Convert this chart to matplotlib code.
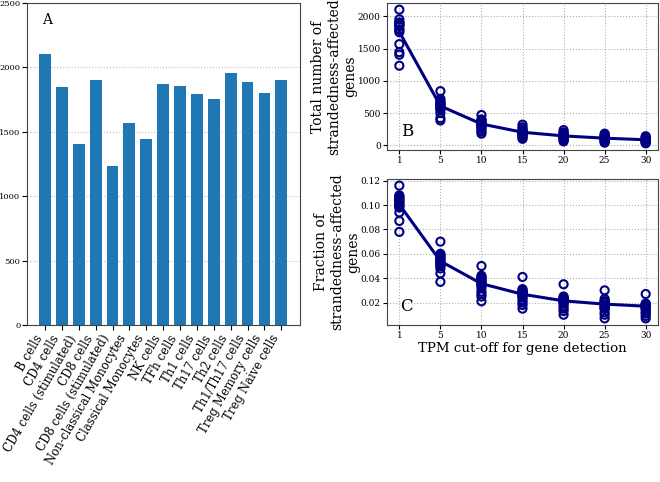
import numpy as np
import matplotlib
matplotlib.use("Agg")
import matplotlib.pyplot as plt

plt.rcParams['font.family'] = ['DejaVu Serif']

# panel A: strandedness-affected genes per cell type
cell_types = ['B cells', 'CD4 cells', 'CD4 cells (stimulated)', 'CD8 cells',
              'CD8 cells (stimulated)', 'Non-classical Monocytes',
              'Classical Monocytes', 'NK cells', 'TFh cells', 'Th1 cells',
              'Th17 cells', 'Th2 cells', 'Th1/Th17 cells', 'Treg Memory cells',
              'Treg Naive cells']
n_genes = [2105, 1850, 1405, 1905, 1235, 1570, 1445, 1875, 1855, 1790,
           1755, 1955, 1890, 1800, 1900]

# panels B and C: TPM cut-offs
tpm_labels = ['1', '5', '10', '15', '20', '25', '30']

total_1 = n_genes
total_5 = [840, 720, 690, 670, 650, 640, 630, 620, 600, 580, 560, 560, 500, 420, 385]
total_10 = [470, 400, 390, 370, 350, 340, 330, 320, 310, 300, 290, 270, 240, 210, 180]
total_15 = [320, 280, 250, 230, 220, 210, 200, 195, 190, 180, 170, 160, 140, 120, 100]
total_20 = [235, 200, 180, 170, 160, 150, 145, 140, 135, 130, 120, 110, 100, 80, 60]
total_25 = [180, 160, 145, 135, 125, 118, 112, 108, 100, 95, 88, 80, 70, 55, 40]
total_30 = [140, 125, 115, 105, 98, 92, 88, 84, 80, 75, 68, 60, 50, 40, 30]
total_line = [1760, 610, 330, 202, 145, 110, 85]

frac_1 = [0.116, 0.108, 0.107, 0.106, 0.105, 0.104, 0.103, 0.102, 0.101, 0.100, 0.099, 0.098, 0.094, 0.087, 0.078]
frac_5 = [0.070, 0.060, 0.059, 0.058, 0.057, 0.056, 0.055, 0.054, 0.053, 0.052, 0.051, 0.050, 0.048, 0.044, 0.037]
frac_10 = [0.050, 0.042, 0.041, 0.040, 0.039, 0.038, 0.037, 0.036, 0.035, 0.034, 0.032, 0.029, 0.027, 0.025, 0.021]
frac_15 = [0.041, 0.031, 0.030, 0.029, 0.029, 0.028, 0.027, 0.027, 0.026, 0.025, 0.024, 0.022, 0.020, 0.018, 0.015]
frac_20 = [0.035, 0.025, 0.024, 0.023, 0.023, 0.022, 0.022, 0.021, 0.020, 0.020, 0.019, 0.017, 0.015, 0.013, 0.010]
frac_25 = [0.030, 0.023, 0.021, 0.021, 0.020, 0.020, 0.018, 0.018, 0.017, 0.016, 0.015, 0.015, 0.012, 0.010, 0.007]
frac_30 = [0.027, 0.019, 0.019, 0.018, 0.018, 0.017, 0.017, 0.016, 0.016, 0.015, 0.014, 0.012, 0.011, 0.009, 0.007]
frac_line = [0.1005, 0.054, 0.0355, 0.0268, 0.0214, 0.0187, 0.017]

totals = [total_1, total_5, total_10, total_15, total_20, total_25, total_30]
fracs = [frac_1, frac_5, frac_10, frac_15, frac_20, frac_25, frac_30]

fig = plt.figure(figsize=(6.6, 4.82), dpi=100)

#PANEL A
axA = fig.add_axes([0.0404, 0.3257, 0.4136, 0.668])
xA = np.arange(len(cell_types))
axA.bar(xA, n_genes, width=0.7, color='#1f77b4')
axA.set_ylim(0, 2500)
axA.set_xticks(xA)
axA.set_xticklabels(cell_types, rotation=60, ha='right', fontsize=8.5)
axA.tick_params(axis='y', labelsize=6, pad=1)
axA.tick_params(axis='x', pad=2)
axA.yaxis.grid(True, linestyle=':', color='#c0c0c0', linewidth=0.8)
axA.set_axisbelow(True)
axA.text(0.055, 0.97, 'A', transform=axA.transAxes, fontsize=10, va='top', ha='left')


def draw_curve(ax, groups, line, letter):
    xs = np.arange(len(groups))
    for i, g in enumerate(groups):
        ax.scatter(np.full(len(g), xs[i]), g, s=34, facecolors='none',
                   edgecolors='navy', linewidths=1.5, zorder=3)
    ax.plot(xs, line, color='navy', linewidth=2.2, zorder=4)
    ax.set_xticks(xs)
    ax.set_xticklabels(tpm_labels)
    ax.tick_params(labelsize=6.5, length=3, pad=1.5)
    ax.grid(True, linestyle=':', color='#b0b0b0', linewidth=0.8)
    ax.set_axisbelow(True)
    ax.text(0.05, 0.07, letter, transform=ax.transAxes, fontsize=12,
            va='bottom', ha='left')


#PANEL B
axB = fig.add_axes([0.5864, 0.6888, 0.4106, 0.305])
draw_curve(axB, totals, total_line, 'B')
axB.set_ylabel('Total number of\nstrandedness-affected\ngenes', fontsize=10, labelpad=0.5)

#PANEL C
axC = fig.add_axes([0.5864, 0.3257, 0.4106, 0.303])
draw_curve(axC, fracs, frac_line, 'C')
axC.set_yticks([0.02, 0.04, 0.06, 0.08, 0.10, 0.12])
axC.set_ylabel('Fraction of\nstrandedness-affected\ngenes', fontsize=10, labelpad=0.5)
axC.set_xlabel('TPM cut-off for gene detection', fontsize=9.6, labelpad=1)

for ax in (axA, axB, axC):
    for s in ax.spines.values():
        s.set_color('#444444')

fig.savefig('out.png', dpi=100)
